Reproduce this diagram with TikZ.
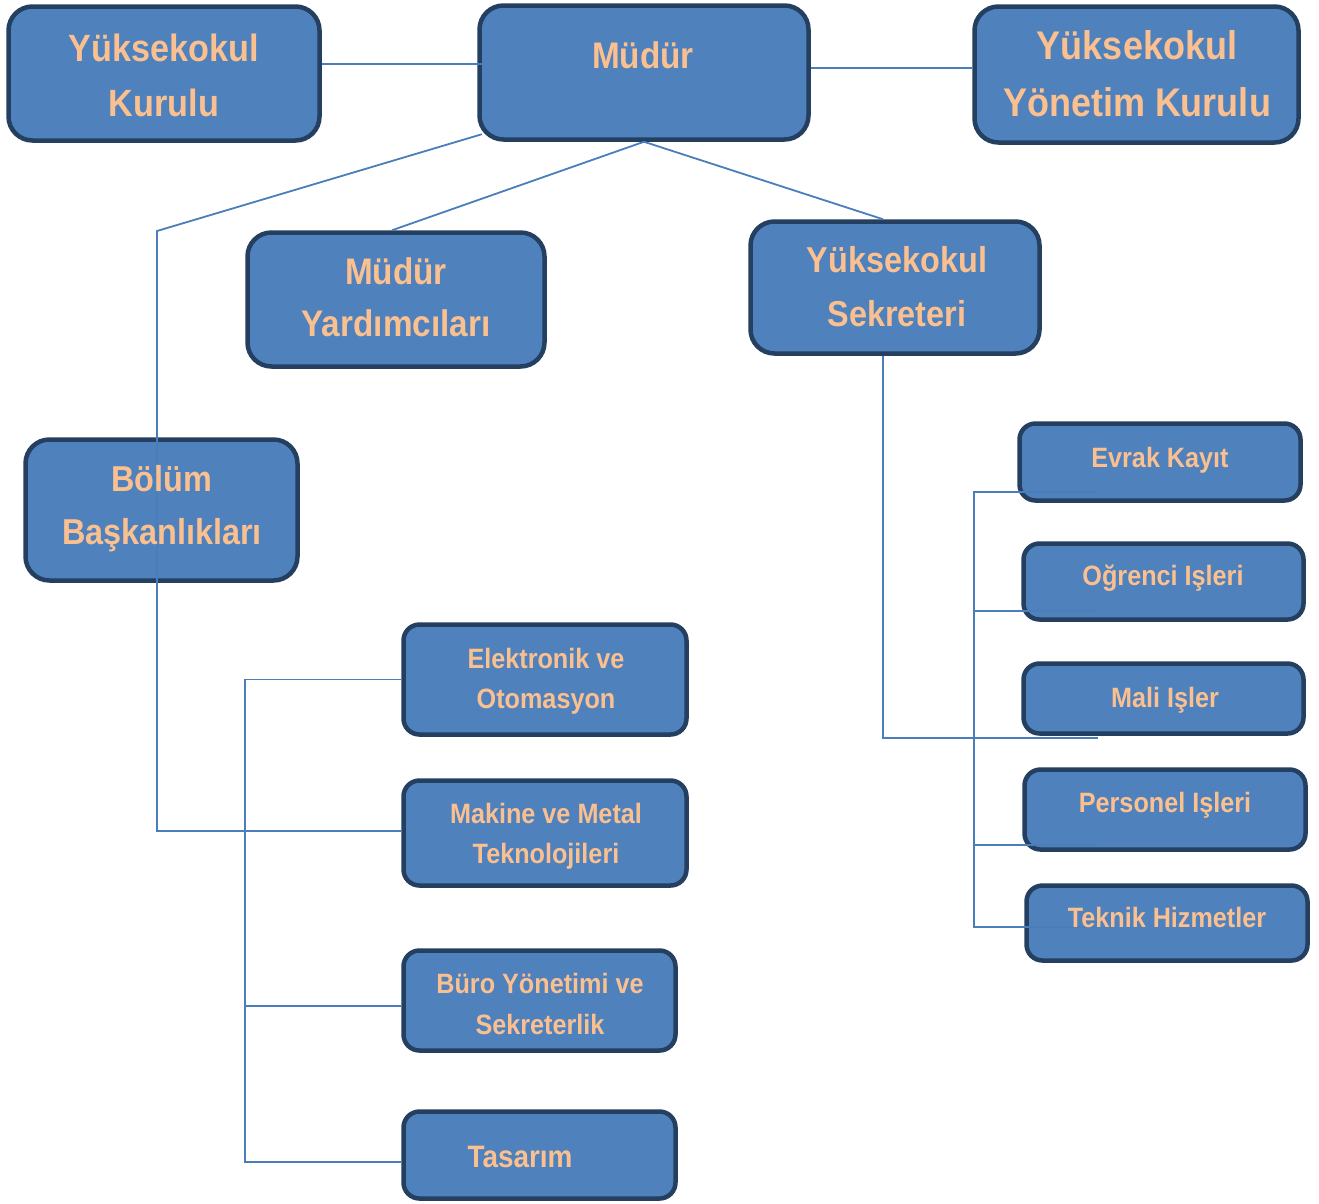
\documentclass[tikz,border=0pt]{standalone}
\usepackage{fontspec}
\newfontfamily\boxfont[FakeStretch=0.9]{Liberation Sans}
\definecolor{boxc}{HTML}{4F81BD}
\definecolor{bordc}{HTML}{243F60}
\definecolor{txtc}{HTML}{FAC090}
\definecolor{linec}{HTML}{4A7EBB}
\begin{document}
\begin{tikzpicture}[x=1pt,y=-1pt,
  bigbox/.style={draw=bordc, fill=boxc, line width=4.5pt, rounded corners=24pt, inner sep=0pt},
  smallbox/.style={draw=bordc, fill=boxc, line width=4.5pt, rounded corners=16pt, inner sep=0pt},
  txt/.style 2 args={text=txtc, font=\boxfont\bfseries\fontsize{#1}{#2}\selectfont, align=center, inner sep=0pt},
  conn/.style={draw=linec, line width=1.8pt}]
\useasboundingbox (0,0) rectangle (1319,1203);

% boxes
\node[bigbox, minimum width=311pt, minimum height=134pt] (k1) at (164,73.5) {};
\node[bigbox, minimum width=329pt, minimum height=134pt] (m) at (644,72.5) {};
\node[bigbox, minimum width=324pt, minimum height=136pt] (k3) at (1136.5,74.5) {};
\node[bigbox, minimum width=297pt, minimum height=134pt] (my) at (396,299.5) {};
\node[bigbox, minimum width=289pt, minimum height=132pt] (ys) at (895,287.5) {};
\node[bigbox, minimum width=272pt, minimum height=141pt] (bb) at (161.5,510) {};
\node[smallbox, minimum width=281pt, minimum height=77pt] (evrak) at (1160,462) {};
\node[smallbox, minimum width=280pt, minimum height=76pt] (ogr) at (1163.5,581.5) {};
\node[smallbox, minimum width=280pt, minimum height=70pt] (mali) at (1163.5,698.5) {};
\node[smallbox, minimum width=281pt, minimum height=80pt] (pers) at (1165,809.5) {};
\node[smallbox, minimum width=281pt, minimum height=75pt] (tek) at (1167,923) {};
\node[smallbox, minimum width=283pt, minimum height=110pt] (el) at (545,679.5) {};
\node[smallbox, minimum width=283pt, minimum height=105pt] (mk) at (545,833) {};
\node[smallbox, minimum width=272pt, minimum height=100pt] (br) at (539.5,1000.5) {};
\node[smallbox, minimum width=272pt, minimum height=87pt] (tas) at (539.5,1155) {};

% junction points and free ends
\coordinate (j1) at (157,231);
\coordinate (j2) at (157,831);
\coordinate (j3) at (883,738);
\coordinate (mend) at (1098,738);
\coordinate (r1) at (974,492);
\coordinate (r2) at (974,927);
\coordinate (r3) at (974,611);
\coordinate (r4) at (974,845);
\coordinate (l1) at (245,679.5);
\coordinate (l2) at (245,1162);
\coordinate (l3) at (245,1006);

% connectors
\draw[conn] ([yshift=9.5pt]k1.east) -- ([shift={(5pt,8.5pt)}]m.west);
\draw[conn] ([yshift=4.5pt]m.east) -- ([yshift=6.5pt]k3.west);
\draw[conn] ([shift={(4.5pt,7.5pt)}]m.south west) -- (j1) -- (j2) -- ([yshift=2pt]mk.west);
\draw[conn] (m.south) -- ([xshift=-4pt]my.north);
\draw[conn] (m.south) -- ([xshift=-12pt]ys.north);
\draw[conn] ([xshift=-12pt]ys.south) -- (j3) -- (mend);
\draw[conn] ([shift={(78.5pt,-30pt)}]evrak.west) -- (r1) -- (r2) -- ([shift={(71.5pt,-4pt)}]tek.west);
\draw[conn] (r3) -- ([shift={(74.5pt,-29.5pt)}]ogr.west);
\draw[conn] (r4) -- ([shift={(73.5pt,-35.5pt)}]pers.west);
\draw[conn] (el.west) -- (l1) -- (l2) -- ([yshift=-7pt]tas.west);
\draw[conn] (l3) -- ([yshift=-5.5pt]br.west);

% texts
\node[txt={38}{55}] (k1t) at (164,75.7) {Yüksekokul\\Kurulu};
\node[txt={37}{44}, anchor=base] (mt) at (643,68) {Müdür};
\node[txt={40}{57}] (k3t) at (1137,73.2) {Yüksekokul\\Yönetim Kurulu};
\node[txt={37}{52}] (myt) at (396,297.5) {Müdür\\Yardımcıları};
\node[txt={36}{54}] (yst) at (897,286.8) {Yüksekokul\\Sekreteri};
\node[txt={36}{53}] (bbt) at (162,509) {Bölüm\\Başkanlıkları};
\node[txt={28}{40}] (elt) at (546,680.8) {Elektronik ve\\Otomasyon};
\node[txt={28}{40}] (mkt) at (546,835.8) {Makine ve Metal\\Teknolojileri};
\node[txt={28}{41}] (brt) at (540,1004.3) {Büro Yönetimi ve\\Sekreterlik};
\node[txt={31}{40}, anchor=base] (tast) at (520,1167) {Tasarım};
\node[txt={28}{40}, anchor=base] (evrakt) at (1160,467) {Evrak Kayıt};
\node[txt={28}{40}, anchor=base] (ogrt) at (1163,585) {Oğrenci Işleri};
\node[txt={28}{40}, anchor=base] (malit) at (1165,707) {Mali Işler};
\node[txt={28}{40}, anchor=base] (perst) at (1165,812) {Personel Işleri};
\node[txt={28}{40}, anchor=base] (tekt) at (1167,927) {Teknik Hizmetler};
\end{tikzpicture}
\end{document}
